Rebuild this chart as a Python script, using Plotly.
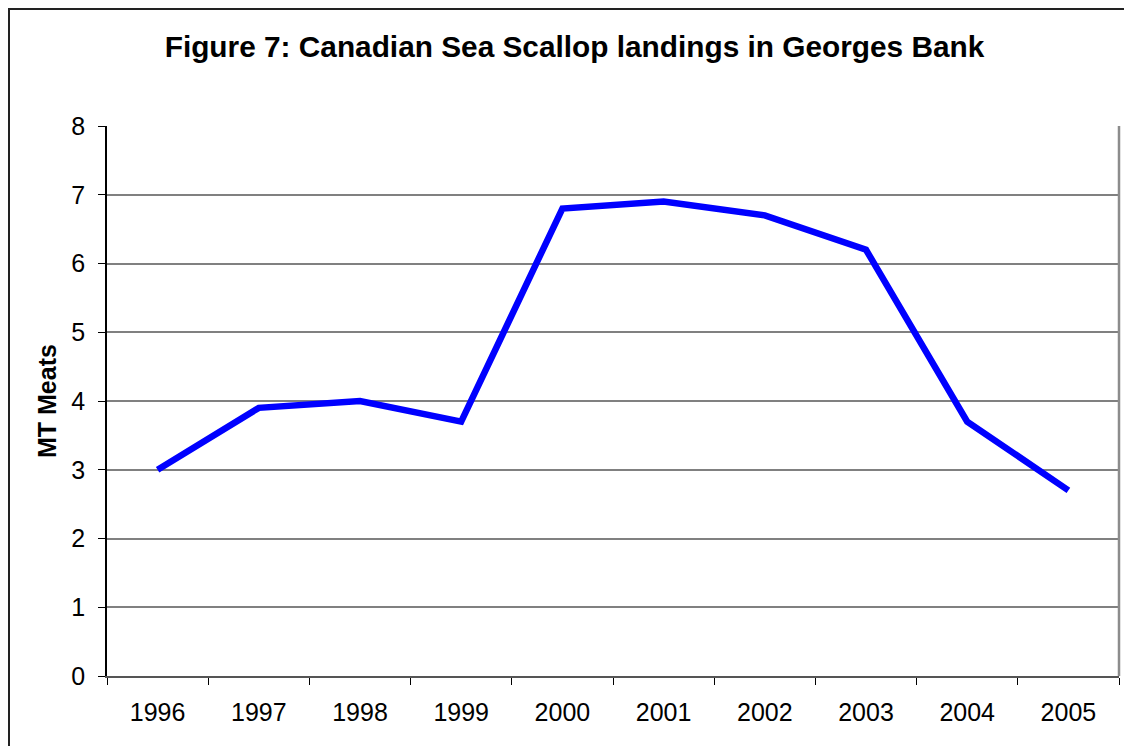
import plotly.graph_objects as go

# data
years = ["1996", "1997", "1998", "1999", "2000", "2001", "2002", "2003", "2004", "2005"]
mt_meats = [3.0, 3.9, 4.0, 3.7, 6.8, 6.9, 6.7, 6.2, 3.7, 2.7]
y_ticks = [0, 1, 2, 3, 4, 5, 6, 7, 8]

# the page body keeps its default 8px margin, so the figure is sized to fit
OFF = 8
W, H = 1132 - OFF, 746 - OFF
L, R, T, B = 107 - OFF, 13, 126 - OFF, 70
PW, PH = W - L - R, H - T - B


def px_x(x):
    return (x - OFF - L) / PW


def px_y(y):
    return (H - B - (y - OFF)) / PH


fig = go.Figure(go.Scatter(
    x=years, y=mt_meats, mode="lines",
    line=dict(color="#0000ff", width=6.5),
    hoverinfo="x+y", showlegend=False,
))

fig.update_layout(
    width=W, height=H,
    paper_bgcolor="white", plot_bgcolor="white",
    margin=dict(l=L, r=R, t=T, b=B),
    font=dict(family="Liberation Sans, Arial, sans-serif", color="black", size=25),
    title=dict(
        text="<b>Figure 7: Canadian Sea Scallop landings in Georges Bank</b>",
        font=dict(size=29.8, color="black"),
        x=(574.5 - OFF) / W, xanchor="center", xref="container",
        y=1 - (47 - OFF) / H, yanchor="middle", yref="container",
    ),
    xaxis=dict(
        type="category", range=[-0.5, 9.5],
        showgrid=False, zeroline=False,
        ticks="outside", tickson="boundaries", ticklen=7, tickcolor="black",
        tickfont=dict(size=25), ticklabelstandoff=13,
        showline=True, linecolor="#555555", linewidth=2,
    ),
    yaxis=dict(
        range=[0, 8], tickvals=y_ticks,
        showgrid=True, gridcolor="#808080", gridwidth=1.5, zeroline=False,
        ticks="outside", ticklen=7, tickcolor="black",
        tickfont=dict(size=25), ticklabelstandoff=8,
        showline=True, linecolor="black", linewidth=1.5,
    ),
    shapes=[
        # plot-area frame (right edge)
        dict(type="line", xref="paper", yref="paper", x0=1, x1=1, y0=0, y1=1,
             line=dict(color="#8c8c8c", width=2.5)),
        # outer chart border running off the picture
        dict(type="rect", xref="paper", yref="paper",
             x0=px_x(9), y0=px_y(9), x1=px_x(1160), y1=px_y(780),
             line=dict(color="#222222", width=2), layer="below"),
    ],
    annotations=[
        dict(text="<b>MT Meats</b>", xref="paper", yref="paper",
             x=px_x(47), y=0.5, xanchor="center", yanchor="middle",
             textangle=-90, showarrow=False, font=dict(size=25, color="black")),
    ],
)

fig.write_html("out.html")
